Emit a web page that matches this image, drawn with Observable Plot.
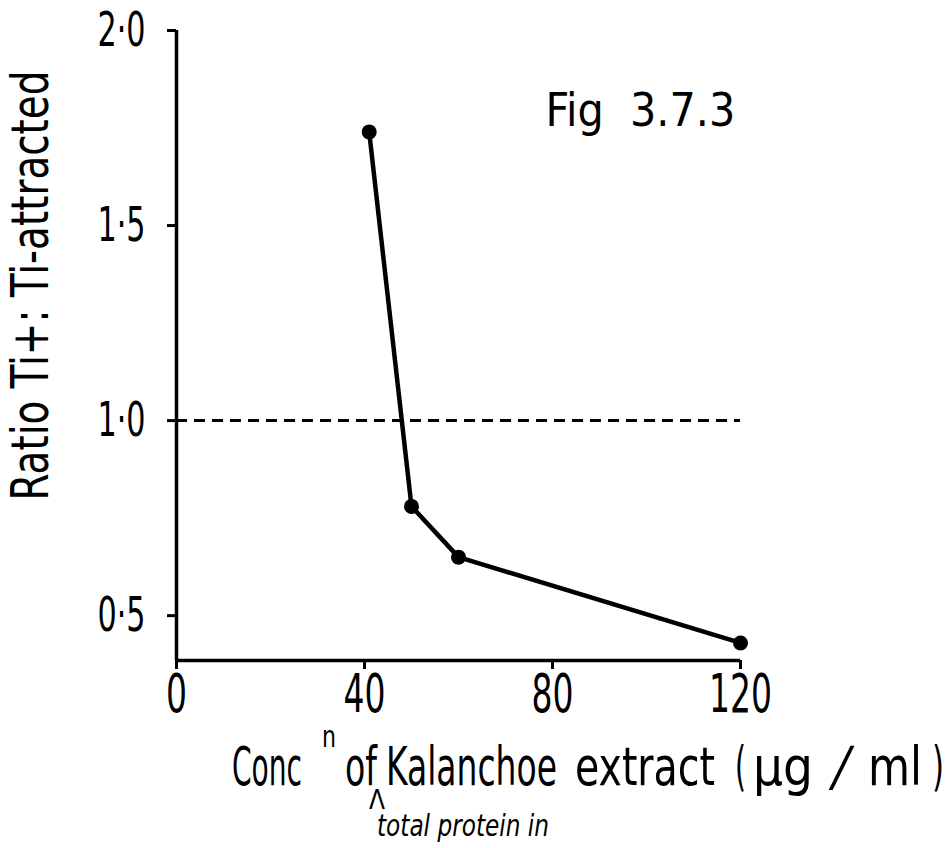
<!DOCTYPE html>
<html>
<head>
<meta charset="utf-8">
<script src="https://cdn.jsdelivr.net/npm/d3@7"></script>
<script src="https://cdn.jsdelivr.net/npm/@observablehq/plot@0.6"></script>
<style>
  body { margin: 0; background: #fff; }
</style>
</head>
<body>
<div id="chart"></div>
<script>
// Ratio of Ti+ to Ti- attracted cells against total protein concentration
const concentration = [41, 50, 60, 120];      // µg/ml
const ratio = [1.74, 0.78, 0.65, 0.43];
const xTicks = [0, 40, 80, 120];
const yTicks = [0.5, 1.0, 1.5, 2.0];
const neutralRatio = [1.0];
const xDomain = [0, 120];
const yDomain = [0.385, 2.0];

const points = concentration.map((c, i) => ({c, r: ratio[i]}));
const font = "'DejaVu Sans Condensed','DejaVu Sans',sans-serif";

const chart = Plot.plot({
  width: 951,
  height: 848,
  marginLeft: 176,
  marginRight: 211,
  marginTop: 30,
  marginBottom: 188,
  style: {fontFamily: font, background: "#fff", color: "#000", overflow: "visible"},
  x: {domain: xDomain},
  y: {domain: yDomain},
  marks: [
    // dashed reference at ratio 1
    Plot.ruleY(neutralRatio, {x1: () => xDomain[0], x2: () => xDomain[1], stroke: "#000", strokeWidth: 3, strokeDasharray: "11,7"}),
    // axes
    Plot.axisX(xTicks, {tickSize: 9, tickPadding: 4, fontSize: 54, strokeWidth: 3, label: null, tickFormat: d => String(d)}),
    Plot.axisY(yTicks, {tickSize: 9, tickPadding: 22, fontSize: 48, strokeWidth: 3, label: null, tickFormat: d => d.toFixed(1).replace(".", "·")}),
    Plot.ruleX([xDomain[0]], {y1: () => yDomain[0], y2: () => yDomain[1], stroke: "#000", strokeWidth: 3.5}),
    Plot.ruleY([yDomain[0]], {x1: () => xDomain[0], x2: () => xDomain[1], stroke: "#000", strokeWidth: 3.5}),
    // data
    Plot.line(points, {x: "c", y: "r", stroke: "#000", strokeWidth: 4.5}),
    Plot.dot(points, {x: "c", y: "r", r: 7.5, fill: "#000", stroke: "none"}),
    // figure number
    Plot.text(["Fig  3.7.3"], {frameAnchor: "top-left", dx: 369, dy: 63, textAnchor: "start", fontSize: 46, fill: "#000"}),
    // y label
    Plot.text(["Ratio Ti+: Ti-attracted"], {frameAnchor: "left", dx: -145, dy: -60, rotate: -90, textAnchor: "middle", fontSize: 52, fill: "#000"})
  ]
});

document.getElementById("chart").appendChild(chart);
const svg = d3.select(chart);

// narrow the tick labels around their own anchor
function squeeze(sel, k) {
  sel.each(function () {
    const x = +this.getAttribute("x") || 0;
    const prev = this.getAttribute("transform") || "";
    this.setAttribute("transform", `${prev} translate(${x},0) scale(${k},1) translate(${-x},0)`);
  });
}
squeeze(svg.selectAll('g[aria-label="x-axis tick label"] text'), 0.68);
squeeze(svg.selectAll('g[aria-label="y-axis tick label"] text'), 0.7);

svg.selectAll("text").filter(function () { return this.textContent === "Ratio Ti+: Ti-attracted"; })
  .attr("textLength", 430).attr("lengthAdjust", "spacingAndGlyphs");

// x axis title with superscript and caret insertion
const xl = svg.append("g").attr("font-family", font).attr("fill", "#000").attr("text-anchor", "start");
function word(str, x, y, size, len, extra) {
  const el = xl.append("text").attr("x", x).attr("y", y).attr("font-size", size).text(str);
  if (len) el.attr("textLength", len).attr("lengthAdjust", "spacingAndGlyphs");
  if (extra) extra(el);
  return el;
}
word("Conc", 232, 785, 54, 70);
word("n", 322, 747, 30, 14);
word("of", 345, 785, 54, 32);
word("Kalanchoe", 386, 785, 54, 171);
word("extract", 575, 785, 54, 140);
word("(", 735, 785, 54, 11);
word("µg", 753, 785, 54, 60);
word("/", 0, 0, 54, null, el => el.attr("text-anchor", "middle").attr("transform", "translate(838,785) skewX(-12)"));
word("ml", 868, 785, 54, 54);
word(")", 932, 785, 54, 12);
word("Λ", 369, 809, 26, 16);
word("total protein in", 377, 836, 30, 172, el => el.attr("font-style", "italic"));
</script>
</body>
</html>
